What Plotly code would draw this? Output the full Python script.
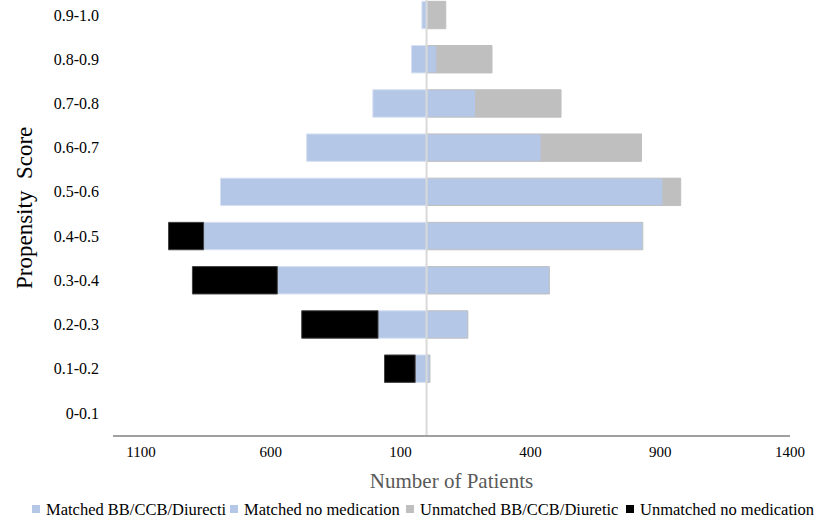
import plotly.graph_objects as go

# ── dados ─────────────────────────────────────────────────────────────────
faixas = ["0-0.1", "0.1-0.2", "0.2-0.3", "0.3-0.4", "0.4-0.5",
          "0.5-0.6", "0.6-0.7", "0.7-0.8", "0.8-0.9", "0.9-1.0"]
matched_bb = [0, 13, 159, 473, 833, 911, 442, 189, 40, 7]
unmatched_bb = [0, 0, 0, 0, 0, 68, 386, 329, 212, 67]
matched_nomed = [0, 44, 187, 575, 859, 794, 462, 207, 58, 18]
unmatched_nomed = [0, 118, 294, 327, 135, 0, 0, 0, 0, 0]

x_ticks = [-1100, -600, -100, 400, 900, 1400]

AZUL = "#B4C7E7"
CINZA = "#BFBFBF"
PRETO = "#000000"
FONTE = "Liberation Serif"

# geometria da área do gráfico (px)
L, R, T, B = 113, 28, 0, 91
W, H = 818, 526
PW, PH = W - L - R, H - T - B

pos = list(range(len(faixas)))


def lado(vals, sinal):
    # zeros viram None para não deixar contorno solto na pilha
    return [sinal * v if v else None for v in vals]


def px_x(px):
    return (px - L) / PW


def px_y(py):
    return (H - B - py) / PH


series = [
    ("Matched BB/CCB/Diurecti", lado(matched_bb, 1), AZUL, CINZA),
    ("Matched no medication", lado(matched_nomed, -1), AZUL, "#D6E0F2"),
    ("Unmatched BB/CCB/Diuretic", lado(unmatched_bb, 1), CINZA, CINZA),
    ("Unmatched no medication", lado(unmatched_nomed, -1), PRETO, "#404040"),
]

fig = go.Figure()
for nome, xs, cor, borda in series:
    fig.add_bar(y=pos, x=xs, orientation="h", name=nome, showlegend=False,
                marker=dict(color=cor, line=dict(color=borda, width=1)))

# linha central (eixo vertical em zero, por cima das barras)
fig.add_shape(type="line", x0=0, x1=0, xref="x", y0=0, y1=1, yref="paper",
              line=dict(color="#D9D9D9", width=2), layer="above")

# legenda desenhada à mão: quadradinho + texto, como no original
leg_x = [32, 230, 406, 626]
leg_y = 509
for (nome, _, cor, _), px in zip(series, leg_x):
    fig.add_shape(type="rect", xref="paper", yref="paper",
                  x0=px_x(px), x1=px_x(px + 8),
                  y0=px_y(leg_y + 4), y1=px_y(leg_y - 4),
                  fillcolor=cor, line=dict(width=0))
    fig.add_annotation(text=nome, xref="paper", yref="paper",
                       x=px_x(px + 12), y=px_y(leg_y),
                       xanchor="left", yanchor="middle", showarrow=False,
                       font=dict(family=FONTE, size=16.5, color="#000000"))

# título do eixo Y (um pouco acima do centro, como no original)
fig.add_annotation(text="Propensity  Score", xref="paper", yref="paper",
                   x=px_x(24), y=px_y(208), textangle=-90, showarrow=False,
                   xanchor="center", yanchor="middle",
                   font=dict(family=FONTE, size=23, color="#000000"))

fig.update_layout(
    width=W, height=H,
    barmode="relative", bargap=0.38,
    paper_bgcolor="white", plot_bgcolor="white",
    font=dict(family=FONTE, color="#000000", size=15),
    margin=dict(l=L, r=R, t=T, b=B),
    showlegend=False,
    xaxis=dict(range=[-1208, 1400], tickvals=x_ticks,
               ticktext=[str(abs(v)) for v in x_ticks],
               showgrid=False, zeroline=False, automargin=False,
               showline=True, linecolor="#A0A0A0", linewidth=1.5,
               ticks="", ticklabelstandoff=2,
               tickfont=dict(family=FONTE, size=15, color="#000000"),
               title=dict(text="Number of Patients", standoff=15,
                          font=dict(family=FONTE, size=21, color="#595959"))),
    yaxis=dict(range=[-0.5, 9.34], tickvals=pos, ticktext=faixas,
               showgrid=False, zeroline=False, showline=False, ticks="",
               automargin=False, ticklabelstandoff=13,
               tickfont=dict(family=FONTE, size=16, color="#000000")),
)

# sem a margem padrão do <body>, o gráfico ocupa a janela inteira
fig.write_html("out.html", config={"displayModeBar": False},
               post_script="document.body.style.margin='0';")
